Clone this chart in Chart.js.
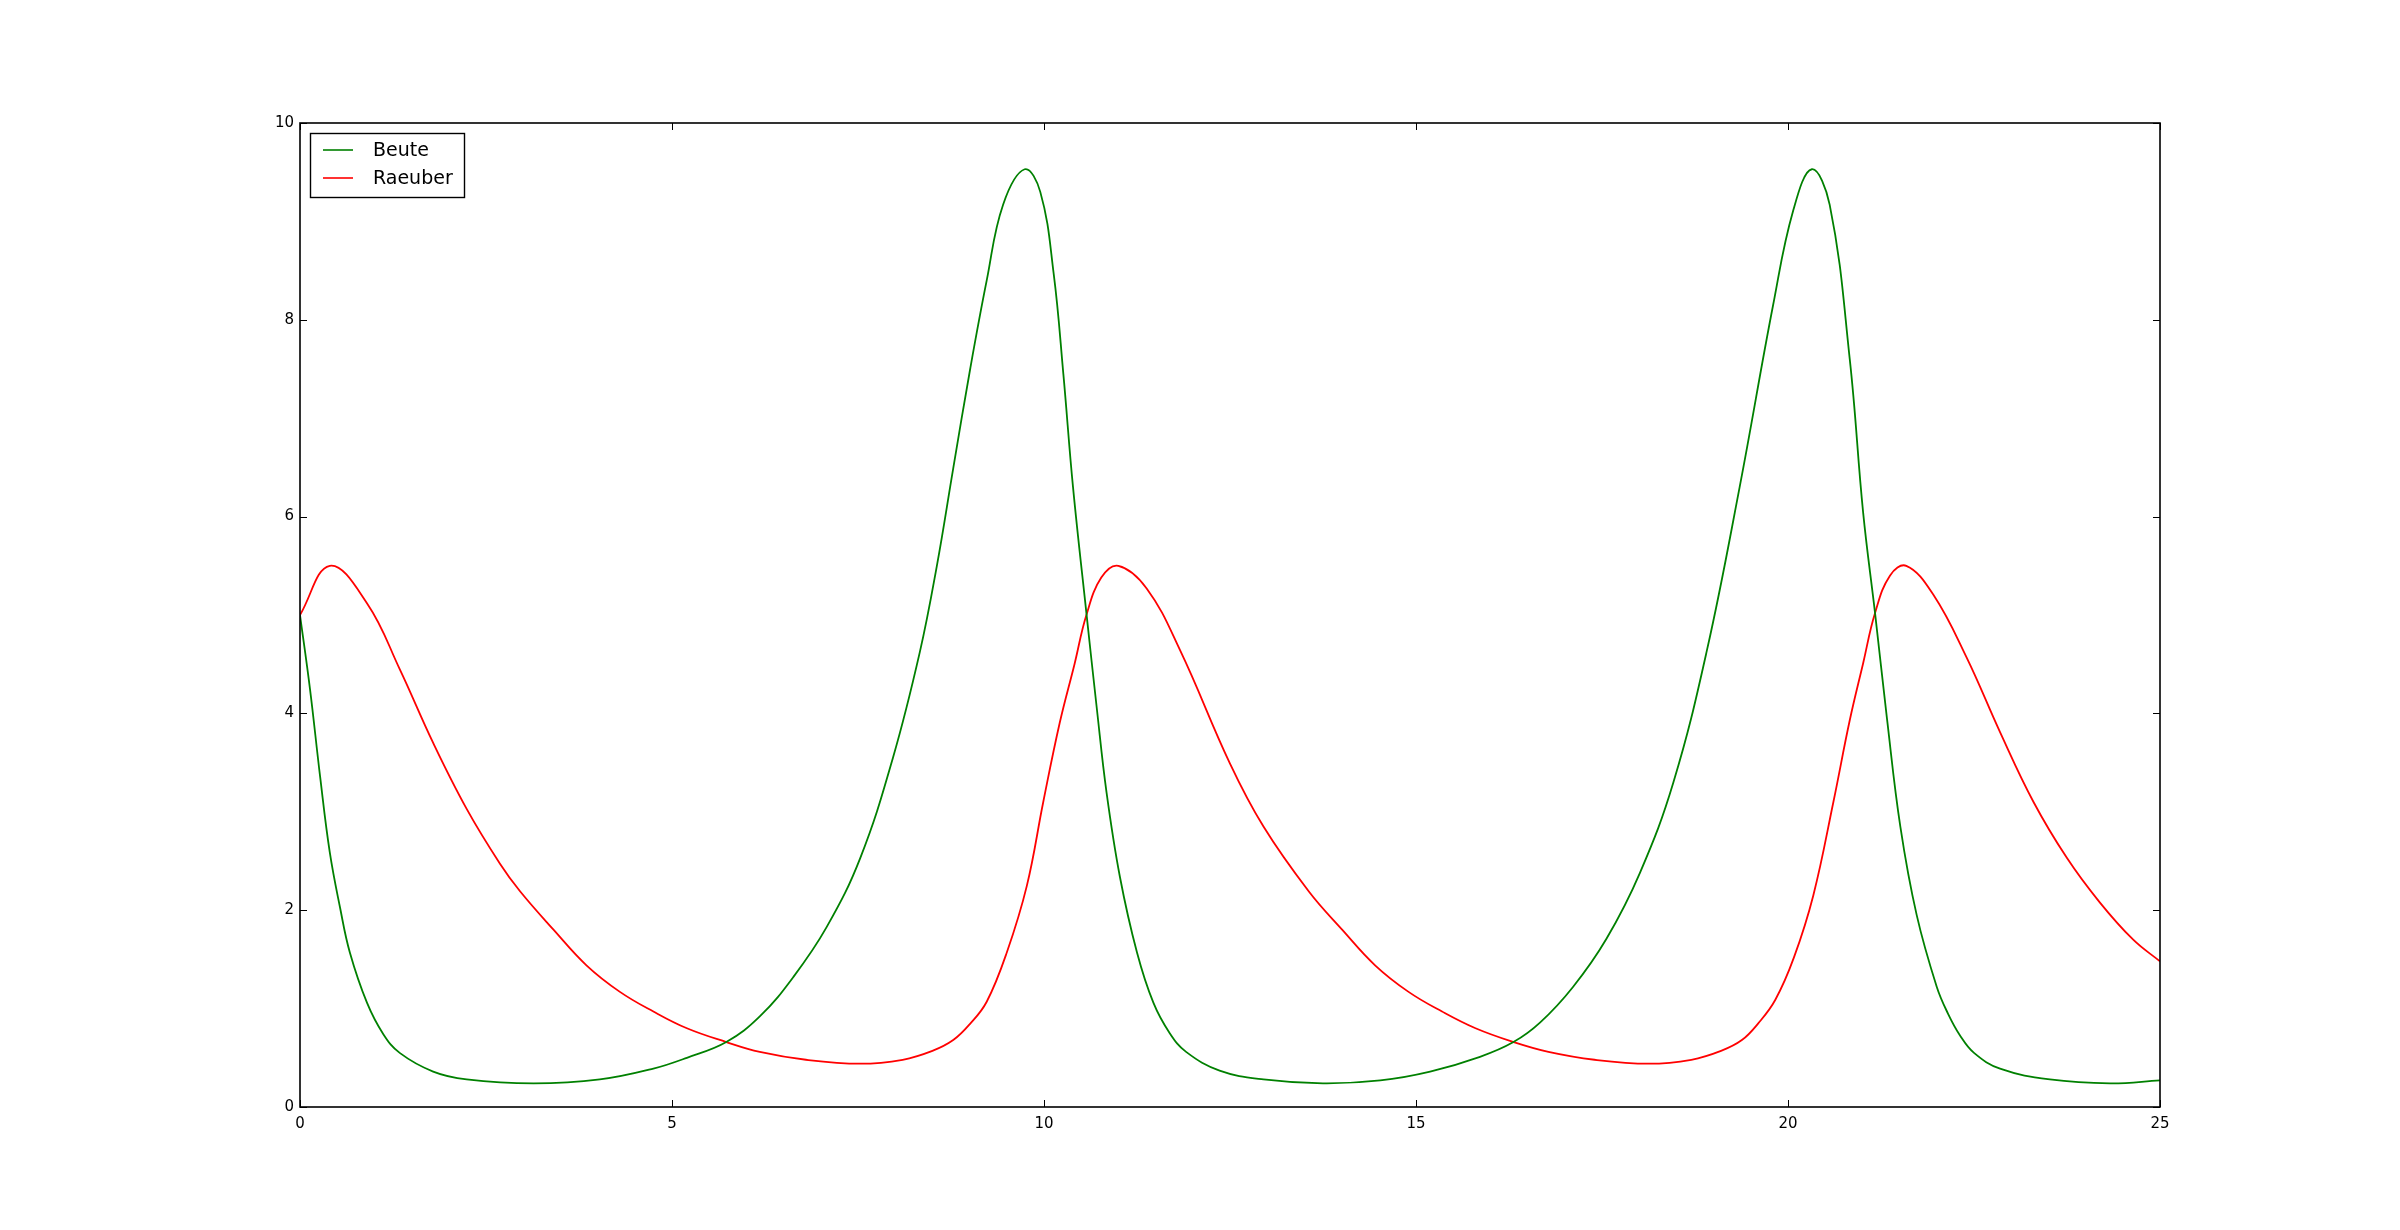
<!DOCTYPE html>
<html>
<head>
<meta charset="utf-8">
<script src="https://cdn.jsdelivr.net/npm/chart.js@4/dist/chart.umd.min.js"></script>
<style>
  html, body { margin: 0; padding: 0; background: #ffffff; }
  #wrap { width: 2400px; height: 1230px; }
</style>
</head>
<body>
<div id="wrap"><canvas id="c" width="2400" height="1230"></canvas></div>
<script>
// ---- Data ----
const seriesNames = ["Beute", "Raeuber"];

const beuteT = [0, 0.134, 0.27, 0.40, 0.54, 0.67, 0.90, 1.12, 1.34, 1.79, 2.24, 3.14, 4.03, 4.75, 5.20, 5.73, 6.18, 6.63, 7.08, 7.53, 7.97, 8.33, 8.56, 8.78, 9.01, 9.23, 9.45, 9.74, 9.95, 10.13, 10.26, 10.39, 10.57, 10.71, 10.84, 11.02, 11.25, 11.47, 11.69, 11.91, 12.36, 12.95, 13.75, 14.52, 15.19, 15.86, 16.31, 16.67, 17.11, 17.56, 18.01, 18.46, 18.91, 19.35, 19.80, 20.07, 20.32, 20.56, 20.83, 21.01, 21.17, 21.33, 21.51, 21.73, 22.0, 22.15, 22.31, 22.50, 22.85, 23.52, 24.33, 25.0];
const beuteV = [5.0, 4.25, 3.36, 2.59, 2.02, 1.57, 1.06, 0.74, 0.55, 0.36, 0.28, 0.24, 0.28, 0.39, 0.50, 0.66, 0.92, 1.32, 1.83, 2.53, 3.55, 4.62, 5.50, 6.49, 7.51, 8.40, 9.17, 9.53, 9.30, 8.47, 7.45, 6.30, 5.02, 4.05, 3.20, 2.34, 1.57, 1.06, 0.75, 0.56, 0.37, 0.28, 0.24, 0.27, 0.36, 0.51, 0.66, 0.86, 1.22, 1.71, 2.38, 3.30, 4.64, 6.30, 8.15, 9.11, 9.53, 9.17, 7.60, 6.04, 5.02, 3.95, 2.85, 1.95, 1.22, 0.95, 0.73, 0.55, 0.39, 0.28, 0.24, 0.27];

const raeuberT = [0, 0.40, 0.90, 1.34, 1.79, 2.24, 2.69, 2.96, 3.41, 3.85, 4.30, 4.75, 5.20, 5.73, 6.18, 6.80, 7.53, 8.10, 8.50, 8.78, 9.00, 9.23, 9.50, 9.77, 9.99, 10.21, 10.41, 10.57, 10.77, 11.0, 11.38, 11.83, 12.50, 12.95, 13.56, 14.01, 14.45, 14.90, 15.35, 15.80, 16.31, 16.78, 17.40, 18.13, 18.70, 19.10, 19.38, 19.60, 19.83, 20.08, 20.34, 20.61, 20.83, 21.01, 21.17, 21.37, 21.59, 21.95, 22.40, 22.85, 23.30, 23.75, 24.19, 24.64, 25.0];
const raeuberV = [5.0, 5.50, 5.12, 4.45, 3.70, 3.03, 2.47, 2.19, 1.80, 1.44, 1.17, 0.97, 0.80, 0.66, 0.56, 0.48, 0.44, 0.48, 0.57, 0.68, 0.84, 1.07, 1.57, 2.25, 3.10, 3.90, 4.50, 5.00, 5.38, 5.50, 5.27, 4.64, 3.49, 2.85, 2.19, 1.80, 1.44, 1.17, 0.97, 0.80, 0.66, 0.56, 0.48, 0.44, 0.48, 0.57, 0.68, 0.85, 1.09, 1.52, 2.15, 3.10, 3.93, 4.51, 5.02, 5.40, 5.50, 5.21, 4.57, 3.81, 3.10, 2.53, 2.08, 1.70, 1.48];

const xTicks = [0, 5, 10, 15, 20, 25];
const yTicks = [0, 2, 4, 6, 8, 10];

const toPoints = (ts, vs) => ts.map((t, i) => ({ x: t, y: vs[i] }));

const FONT = "'DejaVu Sans', 'Liberation Sans', sans-serif";

// Matplotlib-style frame, inward ticks on all sides, and in-axes legend
const mplDecor = {
  id: 'mplDecor',
  afterDraw(chart) {
    const { ctx, chartArea: a, scales } = chart;
    const xs = scales.x, ys = scales.y;
    ctx.save();
    ctx.strokeStyle = '#000';
    ctx.lineWidth = 1;
    const tl = 7;
    ctx.beginPath();
    xTicks.forEach(v => {
      const px = Math.round(xs.getPixelForValue(v)) + 0.5;
      ctx.moveTo(px, a.bottom); ctx.lineTo(px, a.bottom - tl);
      ctx.moveTo(px, a.top); ctx.lineTo(px, a.top + tl);
    });
    yTicks.forEach(v => {
      const py = Math.round(ys.getPixelForValue(v)) + 0.5;
      ctx.moveTo(a.left, py); ctx.lineTo(a.left + tl, py);
      ctx.moveTo(a.right, py); ctx.lineTo(a.right - tl, py);
    });
    ctx.stroke();
    // frame
    ctx.lineWidth = 1.6;
    ctx.strokeRect(a.left, a.top, a.right - a.left, a.bottom - a.top);

    // legend box (upper left, inside axes)
    const bx = a.left + 10, by = a.top + 10, bw = 154, bh = 64;
    ctx.fillStyle = '#fff';
    ctx.fillRect(bx, by, bw, bh);
    ctx.lineWidth = 1.4;
    ctx.strokeStyle = '#000';
    ctx.strokeRect(bx + 0.5, by + 0.5, bw, bh);
    const ds = chart.data.datasets;
    const rows = [by + 17, by + 45];
    ctx.font = '19px ' + FONT;
    ctx.textBaseline = 'middle';
    ctx.textAlign = 'left';
    ds.forEach((d, i) => {
      ctx.strokeStyle = d.borderColor;
      ctx.lineWidth = 1.6;
      ctx.beginPath();
      ctx.moveTo(bx + 13, rows[i]);
      ctx.lineTo(bx + 43, rows[i]);
      ctx.stroke();
      ctx.fillStyle = '#000';
      ctx.fillText(d.label, bx + 63, rows[i] + 1);
    });
    ctx.restore();
  }
};

new Chart(document.getElementById('c'), {
  type: 'line',
  data: {
    datasets: [
      {
        label: seriesNames[0],
        data: toPoints(beuteT, beuteV),
        borderColor: '#008000',
        borderWidth: 1.8,
        pointRadius: 0,
        fill: false,
        tension: 0.4
      },
      {
        label: seriesNames[1],
        data: toPoints(raeuberT, raeuberV),
        borderColor: '#ff0000',
        borderWidth: 1.8,
        pointRadius: 0,
        fill: false,
        tension: 0.4
      }
    ]
  },
  options: {
    responsive: false,
    animation: false,
    events: [],
    layout: { padding: { left: 240, right: 240, top: 123, bottom: 83 } },
    plugins: {
      legend: { display: false },
      tooltip: { enabled: false },
      title: { display: false }
    },
    scales: {
      x: {
        type: 'linear',
        min: 0, max: 25,
        afterBuildTicks(scale) { scale.ticks = xTicks.map(v => ({ value: v })); },
        afterFit(scale) { scale.height = 40; },
        grid: { display: false, drawTicks: false },
        border: { display: false },
        ticks: { color: '#000', font: { family: FONT, size: 15 }, padding: 8, maxRotation: 0 }
      },
      y: {
        type: 'linear',
        min: 0, max: 10,
        afterBuildTicks(scale) { scale.ticks = yTicks.map(v => ({ value: v })); },
        afterFit(scale) { scale.width = 60; },
        grid: { display: false, drawTicks: false },
        border: { display: false },
        ticks: { color: '#000', font: { family: FONT, size: 15 }, padding: 6 }
      }
    }
  },
  plugins: [mplDecor]
});
</script>
</body>
</html>
